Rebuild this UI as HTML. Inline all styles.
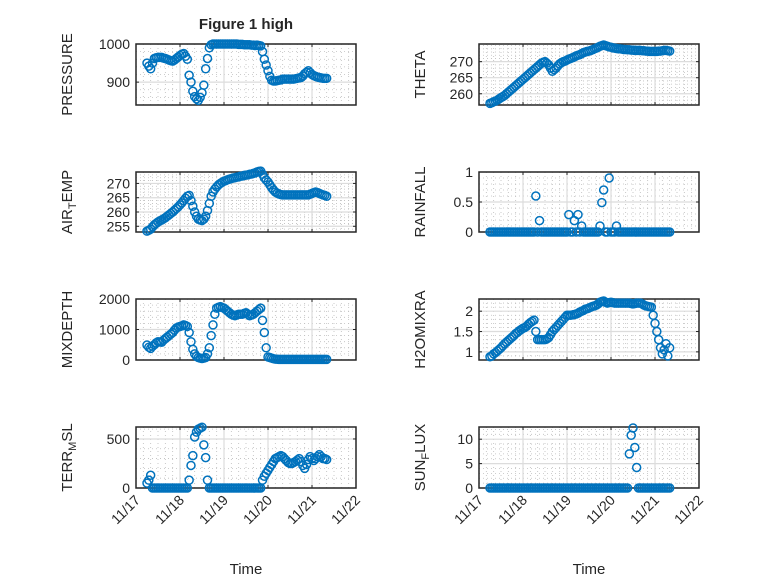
<!DOCTYPE html>
<html><head><meta charset="utf-8"><style>
body{margin:0;background:#fff;}
svg text{font-family:"Liberation Sans",sans-serif;fill:#262626;}
</style></head><body>
<svg id="fig" width="778" height="583" viewBox="0 0 778 583" xmlns="http://www.w3.org/2000/svg">
<rect width="778" height="583" fill="#fff"/>
<text x="246" y="29" font-size="15" font-weight="bold" text-anchor="middle">Figure 1 high</text>
<text x="246" y="574" font-size="15" text-anchor="middle">Time</text>
<text x="589" y="574" font-size="15" text-anchor="middle">Time</text>
</svg>
<script>
const dayLabels = ["11/17","11/18","11/19","11/20","11/21","11/22"];
const pressure = [950,942,935,950,962,964,965,965,965,963,
 962,960,958,956,955,958,962,966,970,973,
 975,968,960,918,900,876,862,856,852,860,
 872,892,935,962,990,998,1000,1000,1000,1000,
 1000,1000,1000,1000,1000,1000,1000,1000,1000,1000,
 999,999,999,998,998,998,998,997,997,996,
 997,996,995,980,960,945,930,915,905,903,
 903,904,905,906,908,908,908,908,908,908,
 908,909,910,911,912,916,922,926,930,925,
 920,917,915,913,912,911,910,910,910];
const theta = [257,257.2,257.5,257.7,258,258.4,258.8,259.1,259.5,260,
 260.5,261,261.5,262,262.5,263,263.5,264,264.5,265,
 265.5,266,266.5,267,267.5,268,268.5,269,269.5,269.8,
 270,269.5,269,268,267,267.5,268,268.7,269.3,269.7,
 270,270.2,270.5,270.8,271,271.2,271.5,271.8,272,272.2,
 272.5,272.8,273,273.2,273.3,273.5,273.7,274,274.2,274.5,
 274.8,275,275.2,275,274.8,274.6,274.5,274.3,274.2,274.1,
 274,274,273.9,273.8,273.8,273.7,273.7,273.6,273.6,273.5,
 273.5,273.5,273.5,273.4,273.4,273.3,273.3,273.2,273.2,273.2,
 273.2,273.2,273.3,273.3,273.4,273.5,273.5,273.4,273.3];
const airTemp = [253.3,253.6,254,254.8,255.5,256,256.5,256.9,257.2,257.6,
 258,258.5,259,259.5,260,260.6,261.2,261.8,262.5,263.2,
 264,264.8,265.5,265.8,264,262,260,258.5,257.5,257.2,
 257,257.5,258.5,260.5,263,265.5,267,268,268.8,269.5,
 270,270.4,270.8,271,271.3,271.5,271.7,271.9,272,272.2,
 272.3,272.5,272.6,272.8,272.9,273,273.2,273.3,273.5,273.7,
 274,274.2,274.3,273.2,272,271.2,270.5,269.5,268.5,267.7,
 267,266.6,266.3,266.1,266,266,266,266,266,266,
 266,266,266,266,266,266,266,266,266,266.2,
 266.5,266.8,267,266.8,266.5,266.2,266,265.8,265.5];
const rainfall = [0,0,0,0,0,0,0,0,0,0,
 0,0,0,0,0,0,0,0,0,0,
 0,0,0,0,0,0.6,0,0.19,0,0,
 0,0,0,0,0,0,0,0,0,0,
 0,0,0,0.29,0,0,0.19,0,0.29,0,
 0.1,0,0,0,0,0,0,0,0,0,
 0.1,0.49,0.7,0,0,0.9,0,0,0,0.1,
 0,0,0,0,0,0,0,0,0,0,
 0,0,0,0,0,0,0,0,0,0,
 0,0,0,0,0,0,0,0,0];
const mixDepth = [490,420,380,450,500,560,600,590,580,650,
 700,750,800,850,900,980,1050,1080,1100,1120,
 1150,1130,1100,900,600,350,200,120,80,60,
 50,60,80,200,400,800,1150,1500,1700,1730,
 1750,1720,1700,1650,1600,1550,1500,1470,1450,1480,
 1500,1500,1500,1530,1550,1500,1450,1480,1500,1550,
 1600,1650,1700,1300,900,400,100,80,60,40,
 30,25,20,20,20,20,20,20,20,20,
 20,20,20,20,20,20,20,20,20,20,
 20,20,20,20,20,20,20,20,20];
const h2oMix = [0.88,0.9,0.95,0.98,1.02,1.06,1.1,1.15,1.2,1.24,
 1.28,1.32,1.36,1.4,1.45,1.48,1.52,1.55,1.58,1.6,
 1.63,1.68,1.72,1.75,1.78,1.5,1.3,1.3,1.3,1.3,
 1.3,1.32,1.35,1.42,1.5,1.55,1.6,1.65,1.7,1.75,
 1.8,1.85,1.9,1.9,1.9,1.91,1.92,1.93,1.95,1.98,
 2.0,2.02,2.05,2.06,2.08,2.1,2.12,2.13,2.15,2.18,
 2.22,2.24,2.25,2.22,2.2,2.21,2.22,2.21,2.2,2.2,
 2.2,2.2,2.2,2.2,2.2,2.2,2.2,2.19,2.18,2.19,
 2.2,2.2,2.2,2.18,2.15,2.13,2.12,2.11,2.1,1.9,
 1.7,1.5,1.3,1.1,0.95,1.05,1.2,0.9,1.1];
const terrMsl = [50,80,130,0,0,0,0,0,0,0,
 0,0,0,0,0,0,0,0,0,0,
 0,0,0,80,230,330,520,570,600,610,
 620,440,310,80,0,0,0,0,0,0,
 0,0,0,0,0,0,0,0,0,0,
 0,0,0,0,0,0,0,0,0,0,
 0,0,0,80,120,150,180,210,240,270,
 300,310,320,330,320,300,280,260,250,250,
 260,270,285,300,270,230,200,240,290,320,
 300,280,300,320,340,320,300,300,290];
const sunFlux = [0,0,0,0,0,0,0,0,0,0,
 0,0,0,0,0,0,0,0,0,0,
 0,0,0,0,0,0,0,0,0,0,
 0,0,0,0,0,0,0,0,0,0,
 0,0,0,0,0,0,0,0,0,0,
 0,0,0,0,0,0,0,0,0,0,
 0,0,0,0,0,0,0,0,0,0,
 0,0,0,0,0,0,7,10.8,12.3,8.3,
 4.2,0,0,0,0,0,0,0,0,0,
 0,0,0,0,0,0,0,0,0];
const pressureTicks = [900,1000];
const thetaTicks = [260,265,270];
const airTempTicks = [255,260,265,270];
const rainTicks = [0,0.5,1];
const mixTicks = [0,1000,2000];
const h2oTicks = [1,1.5,2];
const terrTicks = [0,500];
const sunTicks = [0,5,10];
const startDay = 0.25, stepDay = 1/24;

const NS="http://www.w3.org/2000/svg";
const svg=document.getElementById('fig');
function mk(tag,attrs,parent){const e=document.createElementNS(NS,tag);for(const k in attrs)e.setAttribute(k,attrs[k]);(parent||svg).appendChild(e);return e;}

const cols=[136,479], W=220;
const rows=[[44,105],[172,232],[299,360],[427,488]];
const panels=[
 {c:0,r:0,name:'pressure',vals:pressure,ylim:[840,1000],ticks:pressureTicks,minor:20,label:['PRESSURE']},
 {c:1,r:0,name:'theta',vals:theta,ylim:[256.5,275.5],ticks:thetaTicks,minor:1,label:['THETA']},
 {c:0,r:1,name:'air-temp',vals:airTemp,ylim:[253,274],ticks:airTempTicks,minor:1,label:['AIR','T','EMP']},
 {c:1,r:1,name:'rainfall',vals:rainfall,ylim:[0,1],ticks:rainTicks,minor:0.1,label:['RAINFALL']},
 {c:0,r:2,name:'mixdepth',vals:mixDepth,ylim:[0,2000],ticks:mixTicks,minor:200,label:['MIXDEPTH']},
 {c:1,r:2,name:'h2omixra',vals:h2oMix,ylim:[0.8,2.3],ticks:h2oTicks,minor:0.1,label:['H2OMIXRA']},
 {c:0,r:3,name:'terr-msl',vals:terrMsl,ylim:[0,622],ticks:terrTicks,minor:100,label:['TERR','M','SL']},
 {c:1,r:3,name:'sun-flux',vals:sunFlux,ylim:[0,12.5],ticks:sunTicks,minor:1,label:['SUN','F','LUX']}
];

panels.forEach(p=>{
 const L=cols[p.c], R=L+W, T=rows[p.r][0], B=rows[p.r][1];
 const xs=d=>L+d*W/5;
 const ys=v=>B-(v-p.ylim[0])/(p.ylim[1]-p.ylim[0])*(B-T);
 const g=mk('g',{});
 
 
 for(let d=0;d<5;d++)for(let k=1;k<6;k++){const x=xs(d+k/6);mk('line',{x1:x,x2:x,y1:T,y2:B,stroke:'#bdbdbd','stroke-width':0.8,'stroke-dasharray':'1 3'},g);}
 const s=Math.ceil(p.ylim[0]/p.minor-1e-9);
 for(let m=s;m*p.minor<=p.ylim[1]+1e-9;m++){const v=m*p.minor;if(p.ticks.some(t=>Math.abs(t-v)<1e-6))continue;const y=ys(v);mk('line',{x1:L,x2:R,y1:y,y2:y,stroke:'#bdbdbd','stroke-width':0.8,'stroke-dasharray':'1 3'},g);}
 for(let d=1;d<5;d++){const x=xs(d);mk('line',{x1:x,x2:x,y1:T,y2:B,stroke:'#dcdcdc','stroke-width':1.2},g);}
 p.ticks.forEach(t=>{const y=ys(t);mk('line',{x1:L,x2:R,y1:y,y2:y,stroke:'#dcdcdc','stroke-width':1.2},g);
   mk('line',{x1:L,x2:L+3,y1:y,y2:y,stroke:'#262626','stroke-width':1},g);mk('line',{x1:R-3,x2:R,y1:y,y2:y,stroke:'#262626','stroke-width':1},g);
   const tl=mk('text',{x:L-6,y:y+5,'font-size':14,'text-anchor':'end'},g);tl.textContent=String(t);
   
   });
 for(let d=0;d<=5;d++){const x=xs(d);mk('line',{x1:x,x2:x,y1:B,y2:B-3,stroke:'#262626','stroke-width':1},g);mk('line',{x1:x,x2:x,y1:T,y2:T+3,stroke:'#262626','stroke-width':1},g);}
 mk('rect',{x:L,y:T,width:W,height:B-T,fill:'none',stroke:'#262626','stroke-width':1.5},g);
 p.vals.forEach((v,i)=>{const c=mk('circle',{cx:xs(startDay+i*stepDay),cy:ys(v),r:4,fill:'none',stroke:'#0072BD','stroke-width':1.5},g);
   
   });
 const lx=p.c===0?72:425, ly=(T+B)/2;
 const yl=mk('text',{x:lx,y:ly,'font-size':15,'text-anchor':'middle',transform:`rotate(-90 ${lx} ${ly})`},g);
 
 
 if(p.label.length===1){yl.textContent=p.label[0];}
 else{const a=mk('tspan',{},yl);a.textContent=p.label[0];const b=mk('tspan',{dy:4,'font-size':11},yl);b.textContent=p.label[1];const c=mk('tspan',{dy:-4},yl);c.textContent=p.label[2];}
 if(p.r===3){dayLabels.forEach((lab,d)=>{const x=xs(d)+5,y=B+13;const t=mk('text',{x:x,y:y,'font-size':14,'text-anchor':'end',transform:`rotate(-45 ${x} ${y})`},g);t.textContent=lab;
   
   });}
});
</script>
</body></html>
